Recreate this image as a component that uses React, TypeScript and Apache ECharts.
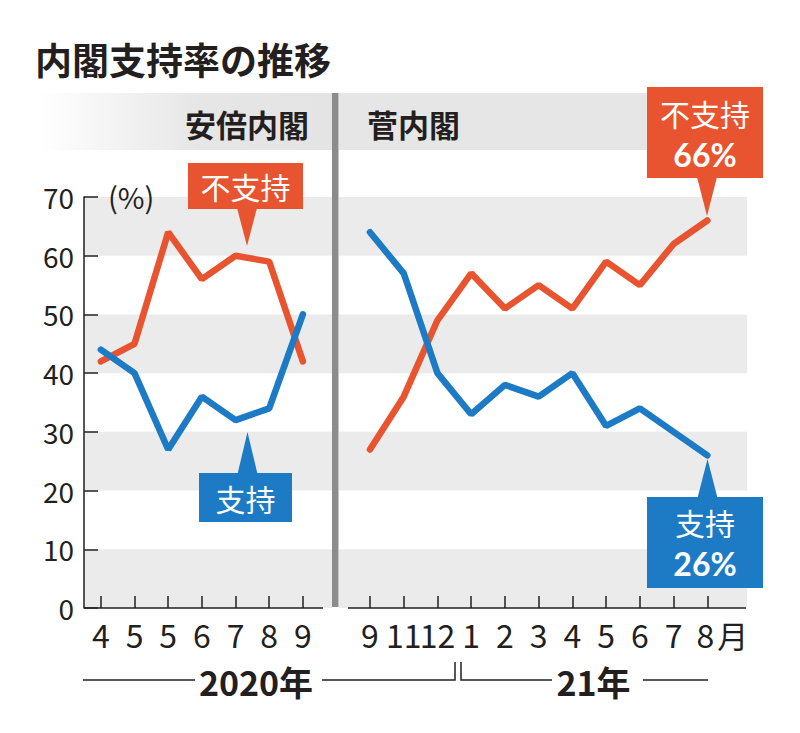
import React, { useEffect, useRef } from 'react';
import * as echarts from 'echarts';

// ---- data ----
const abeMonths = ['4', '5', '5', '6', '7', '8', '9'];
const abeSupport = [44, 40, 27, 36, 32, 34, 50];
const abeDisapprove = [42, 45, 64, 56, 60, 59, 42];

const sugaMonths = ['9', '11', '12', '1', '2', '3', '4', '5', '6', '7', '8'];
const sugaSupport = [64, 57, 40, 33, 38, 36, 40, 31, 34, 30, 26];
const sugaDisapprove = [27, 36, 49, 57, 51, 55, 51, 59, 55, 62, 66];

const yMin = 0;
const yMax = 70;
const yStep = 10;

const TITLE = '内閣支持率の推移';
const ABE = '安倍内閣';
const SUGA = '菅内閣';
const YEAR1 = '2020年';
const YEAR2 = '21年';

const ORANGE = '#e8542f';
const BLUE = '#1c7bc4';
const INK = '#231f20';
const STRIPE = '#ebebeb';
const FONT = '"Noto Sans CJK JP", "Noto Sans", sans-serif';
const NUM_FONT = 'Lato, "Noto Sans", sans-serif';

function callout(
  box: { x: number; y: number; w: number; h: number },
  tip: { x: number; y: number },
  color: string,
  label: string,
  labelY: number,
  value: string | null,
  valueY: number
) {
  const up = tip.y < box.y;
  const baseY = up ? box.y + 1 : box.y + box.h - 1;
  const cx = tip.x;
  const children: any[] = [
    {
      type: 'rect',
      z: 50,
      shape: { x: box.x, y: box.y, width: box.w, height: box.h },
      style: { fill: color },
    },
    {
      type: 'polygon',
      z: 50,
      shape: { points: [[cx - 10, baseY], [cx + 10, baseY], [tip.x, tip.y]] },
      style: { fill: color },
    },
    {
      type: 'text',
      z: 51,
      x: box.x + box.w / 2,
      y: labelY,
      style: {
        text: label,
        fontSize: 30,
        fontFamily: FONT,
        fill: '#ffffff',
        align: 'center',
        verticalAlign: 'middle',
      },
    },
  ];
  if (value) {
    children.push({
      type: 'text',
      z: 51,
      x: box.x + box.w / 2,
      y: valueY,
      style: {
        text: value,
        fontSize: 32,
        fontWeight: 'bold',
        fontFamily: NUM_FONT,
        fill: '#ffffff',
        align: 'center',
        verticalAlign: 'middle',
      },
    });
  }
  return { type: 'group', z: 50, children };
}

export default function App() {
  const ref = useRef<HTMLDivElement>(null);

  useEffect(() => {
    document.body.style.margin = '0';
    document.body.style.background = '#ffffff';
    if (!ref.current) return;
    const chart = echarts.init(ref.current, undefined, { renderer: 'svg' });

    const top = 197;
    const height = 411;

    const hiddenX = (gridIndex: number) => ({
      type: 'value',
      gridIndex,
      min: 0,
      max: 1,
      show: false,
    });

    const catX = (gridIndex: number, data: string[], last: boolean) => ({
      type: 'category',
      gridIndex,
      data,
      boundaryGap: true,
      axisLine: { show: false },
      axisTick: {
        show: true,
        inside: true,
        length: 12,
        alignWithLabel: true,
        lineStyle: { color: INK, width: 1.5 },
      },
      axisLabel: {
        interval: 0,
        margin: 10,
        fontSize: 32,
        color: INK,
        fontFamily: FONT,
        formatter: (v: string, i: number) =>
          last && i === data.length - 1 ? '{sp| }' + v + '{g| }{m|月}' : v,
        rich: {
          sp: { width: 30, fontSize: 32, fontFamily: FONT },
          g: { width: 3, fontSize: 32, fontFamily: FONT },
          m: { fontSize: 31, color: INK, fontFamily: FONT },
        },
      },
      splitLine: { show: false },
    });

    const txt = (x: number, y: number, text: string, size: number, weight: string, align: string) => ({
      type: 'text',
      z: 60,
      x,
      y,
      style: {
        text,
        fontSize: size,
        fontWeight: weight,
        fontFamily: FONT,
        fill: INK,
        align,
        verticalAlign: 'middle',
      },
    });

    const option: any = {
      animation: false,
      backgroundColor: '#ffffff',
      grid: [
        { left: 84, top, width: 248, height },
        { left: 339, top, width: 408, height },
        { left: 84, top, width: 235.7, height },
        { left: 353.1, top, width: 371.1, height },
      ],
      xAxis: [
        hiddenX(0),
        hiddenX(1),
        catX(2, abeMonths, false),
        catX(3, sugaMonths, true),
      ],
      yAxis: [
        {
          type: 'value',
          gridIndex: 0,
          min: yMin,
          max: yMax,
          interval: yStep,
          axisLine: { show: true, lineStyle: { color: INK, width: 1.5 } },
          axisTick: { show: true, inside: true, length: 14, lineStyle: { color: INK, width: 1.5 } },
          axisLabel: { fontSize: 28, color: INK, margin: 10, fontFamily: FONT },
          splitLine: { show: false },
          splitArea: { show: true, areaStyle: { color: [STRIPE, 'rgba(255,255,255,0)'] } },
        },
        {
          type: 'value',
          gridIndex: 1,
          min: yMin,
          max: yMax,
          interval: yStep,
          axisLine: { show: false },
          axisTick: { show: false },
          axisLabel: { show: false },
          splitLine: { show: false },
          splitArea: { show: true, areaStyle: { color: [STRIPE, 'rgba(255,255,255,0)'] } },
        },
        { type: 'value', gridIndex: 2, min: yMin, max: yMax, interval: yStep, show: false },
        { type: 'value', gridIndex: 3, min: yMin, max: yMax, interval: yStep, show: false },
      ],
      series: [
        {
          type: 'line',
          name: '不支持',
          xAxisIndex: 2,
          yAxisIndex: 2,
          data: abeDisapprove,
          symbol: 'none',
          lineStyle: { color: ORANGE, width: 6.5, cap: 'round' },
          z: 3,
        },
        {
          type: 'line',
          name: '支持',
          xAxisIndex: 2,
          yAxisIndex: 2,
          data: abeSupport,
          symbol: 'none',
          lineStyle: { color: BLUE, width: 6.5, cap: 'round' },
          z: 4,
        },
        {
          type: 'line',
          name: '不支持',
          xAxisIndex: 3,
          yAxisIndex: 3,
          data: sugaDisapprove,
          symbol: 'none',
          lineStyle: { color: ORANGE, width: 6.5, cap: 'round' },
          z: 3,
        },
        {
          type: 'line',
          name: '支持',
          xAxisIndex: 3,
          yAxisIndex: 3,
          data: sugaSupport,
          symbol: 'none',
          lineStyle: { color: BLUE, width: 6.5, cap: 'round' },
          z: 4,
        },
      ],
      graphic: [
        // header bands
        {
          type: 'rect',
          shape: { x: 40, y: 93, width: 292, height: 57 },
          style: {
            fill: new echarts.graphic.LinearGradient(0, 0, 1, 0, [
              { offset: 0, color: '#ffffff' },
              { offset: 0.55, color: '#e6e6e6' },
              { offset: 1, color: '#e4e4e4' },
            ]),
          },
        },
        {
          type: 'rect',
          shape: { x: 339, y: 93, width: 408, height: 57 },
          style: { fill: '#e6e6e6' },
        },
        // divider
        {
          type: 'rect',
          z: 20,
          shape: { x: 332, y: 93, width: 6.5, height: 514 },
          style: { fill: '#8c8c8c' },
        },
        // title
        txt(35, 58.5, TITLE, 37, 'bold', 'left'),
        // panel labels
        txt(309, 123, ABE, 31, 'bold', 'right'),
        txt(367, 123, SUGA, 31, 'bold', 'left'),
        // unit
        txt(108, 196, '(%)', 29, 'normal', 'left'),
        // x axis base lines
        {
          type: 'line',
          z: 20,
          shape: { x1: 84, y1: 608, x2: 323, y2: 608 },
          style: { stroke: INK, lineWidth: 1.5 },
        },
        {
          type: 'line',
          z: 20,
          shape: { x1: 348, y1: 608, x2: 746, y2: 608 },
          style: { stroke: INK, lineWidth: 1.5 },
        },
        // year row
        {
          type: 'polyline',
          shape: { points: [[83, 680], [195, 680]] },
          style: { stroke: INK, lineWidth: 1.5, fill: 'none' },
        },
        {
          type: 'polyline',
          shape: { points: [[322, 680], [455, 680], [455, 662]] },
          style: { stroke: INK, lineWidth: 1.5, fill: 'none' },
        },
        {
          type: 'polyline',
          shape: { points: [[461, 662], [461, 680], [552, 680]] },
          style: { stroke: INK, lineWidth: 1.5, fill: 'none' },
        },
        {
          type: 'polyline',
          shape: { points: [[643, 680], [708, 680]] },
          style: { stroke: INK, lineWidth: 1.5, fill: 'none' },
        },
        txt(256, 681, YEAR1, 34, 'bold', 'center'),
        txt(593.5, 681, YEAR2, 34, 'bold', 'center'),
        // callouts
        callout({ x: 188, y: 163, w: 115, h: 46 }, { x: 247, y: 246 }, ORANGE, '不支持', 186, null, 0),
        callout({ x: 199, y: 473, w: 93, h: 49 }, { x: 247.5, y: 432 }, BLUE, '支持', 497.5, null, 0),
        callout({ x: 647, y: 87, w: 116, h: 91 }, { x: 707, y: 216 }, ORANGE, '不支持', 112.5, '66%', 154),
        callout({ x: 647, y: 497, w: 116, h: 91 }, { x: 707.5, y: 459 }, BLUE, '支持', 521.5, '26%', 563),
      ],
    };

    chart.setOption(option);
    return () => chart.dispose();
  }, []);

  return <div ref={ref} style={{ width: 800, height: 733 }} />;
}
